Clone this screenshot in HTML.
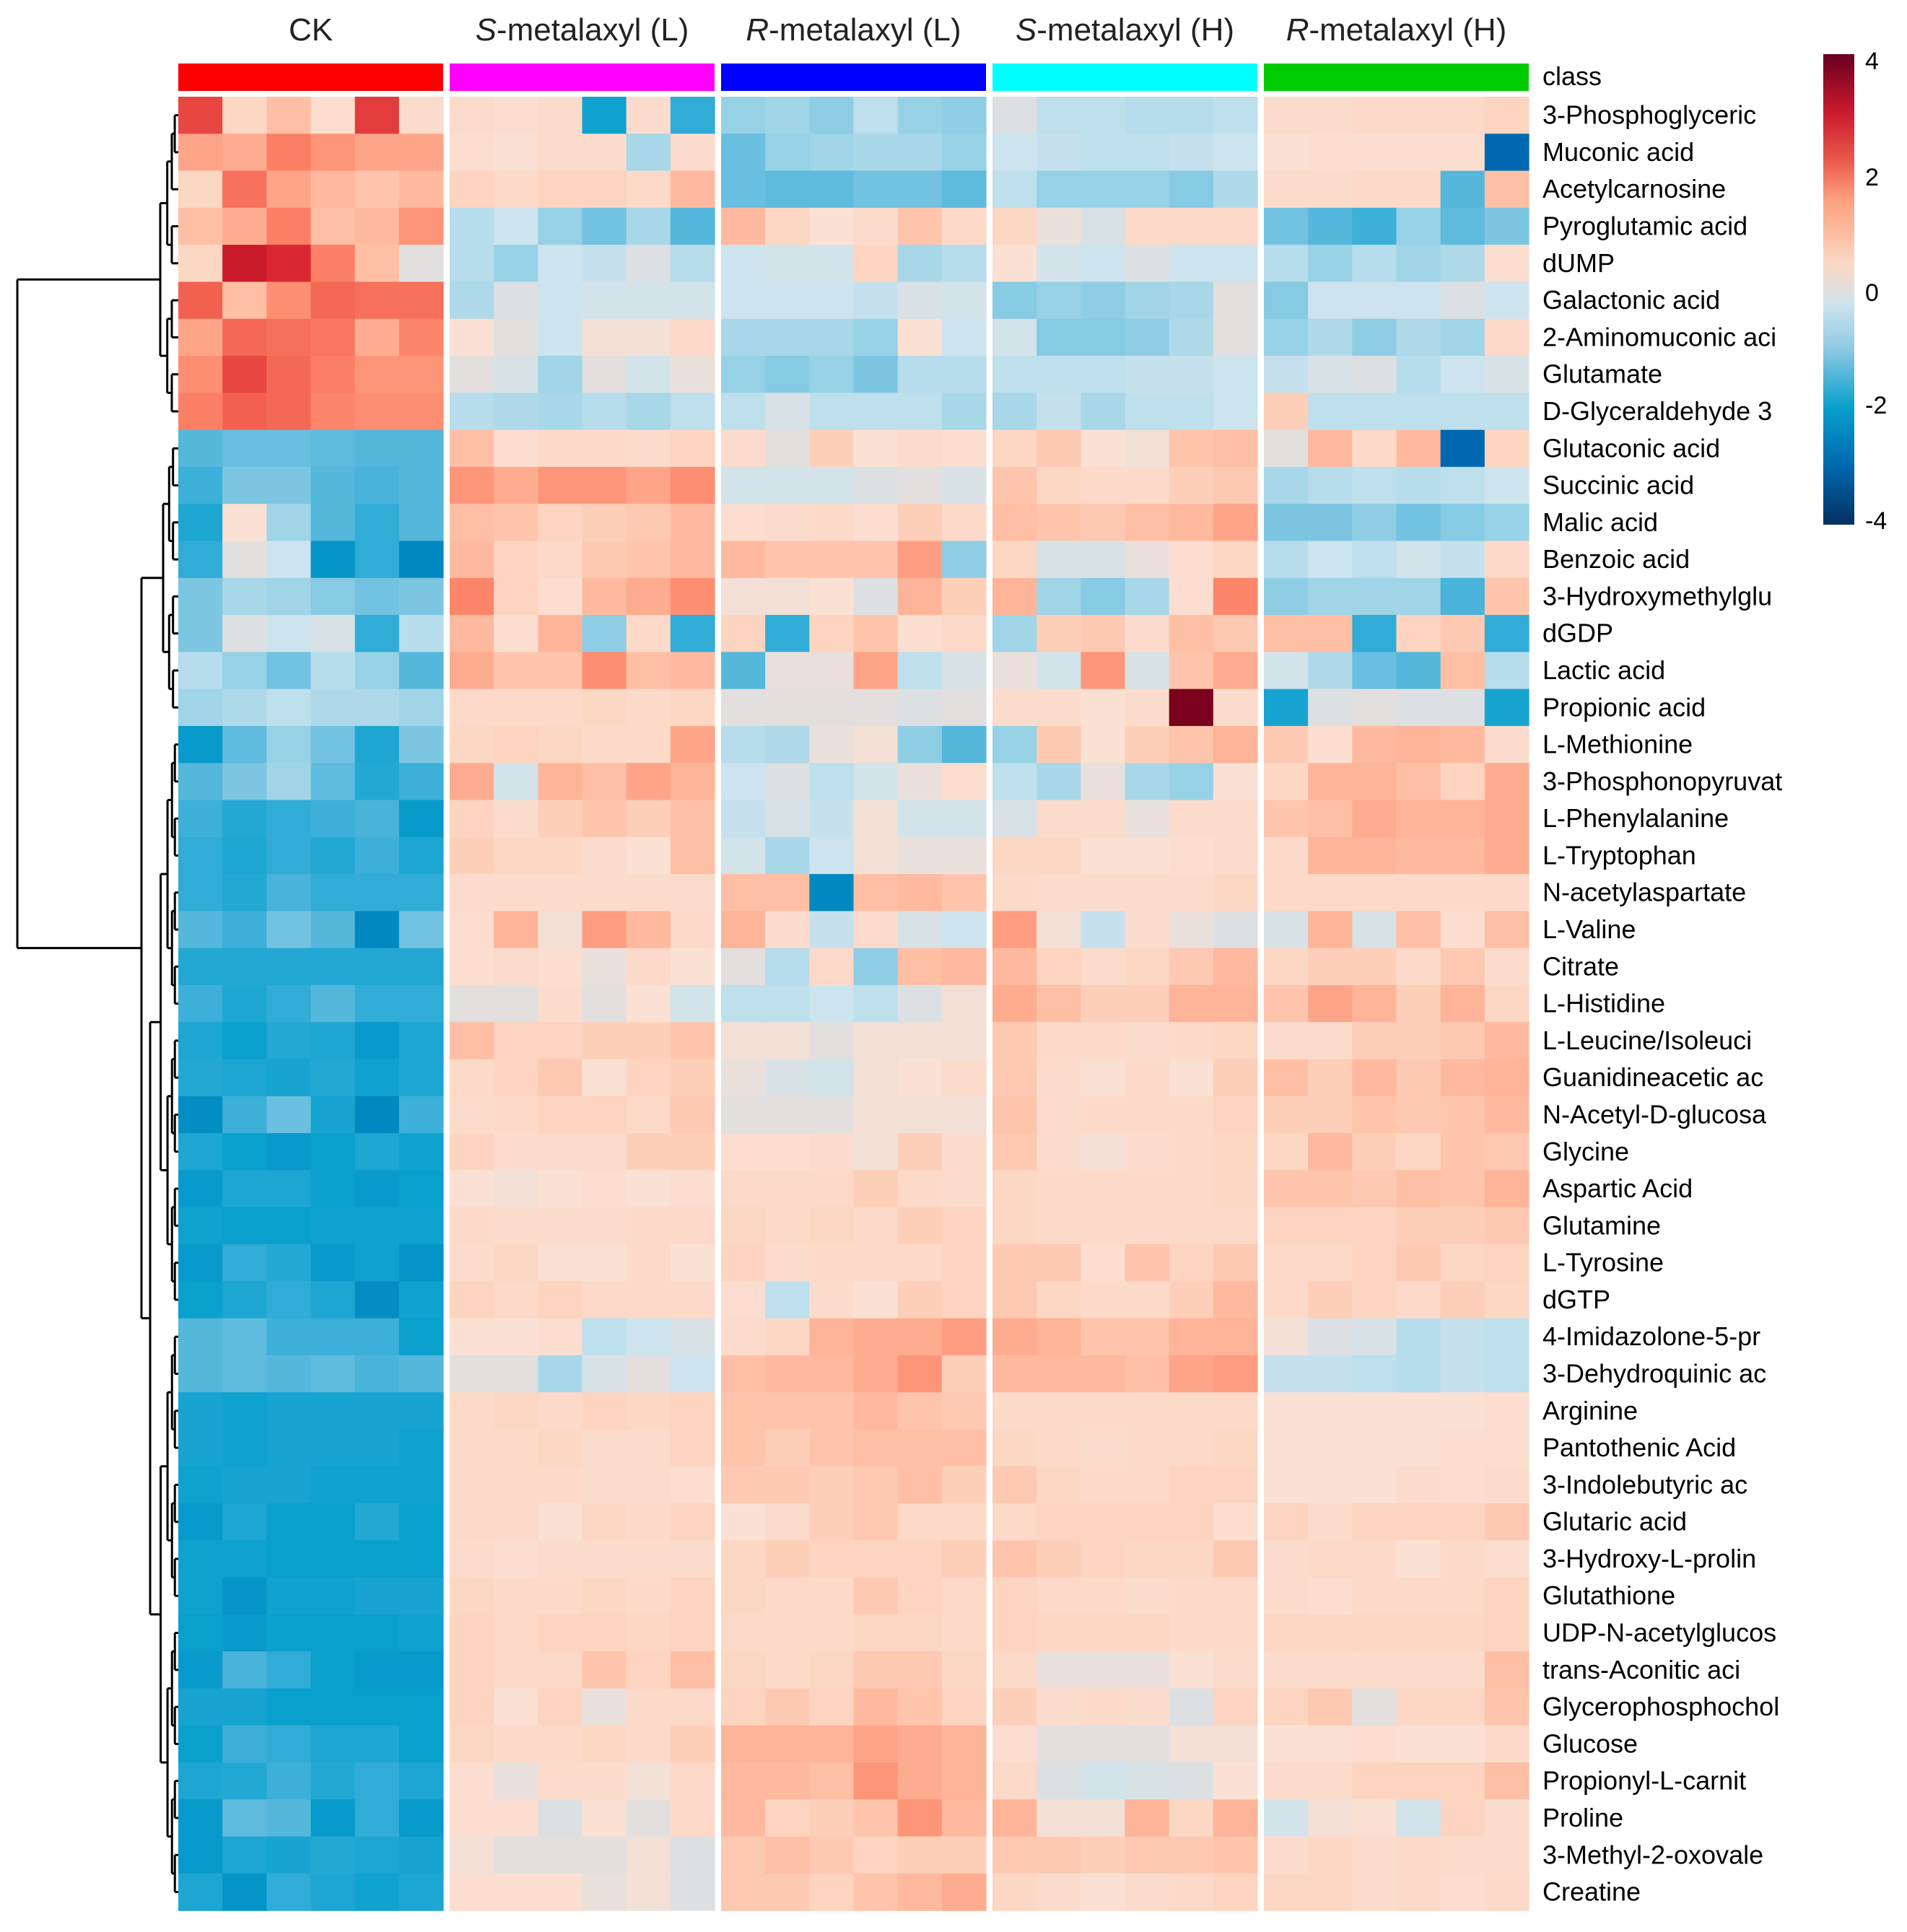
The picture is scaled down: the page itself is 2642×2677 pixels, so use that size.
<!DOCTYPE html>
<html><head><meta charset="utf-8"><style>
html,body{margin:0;padding:0;background:#fff;}
svg text{font-family:"Liberation Sans",sans-serif;}
</style></head><body>
<svg id="chart" xmlns="http://www.w3.org/2000/svg" width="2642" height="2672" viewBox="0 0 2642 2672">
<defs>
<linearGradient id="cbar" x1="0" y1="1" x2="0" y2="0">
<stop offset="0" stop-color="#053061"/><stop offset="0.125" stop-color="#0068b0"/><stop offset="0.25" stop-color="#0aa0cc"/><stop offset="0.375" stop-color="#8fcae3"/><stop offset="0.47" stop-color="#cfe4ee"/><stop offset="0.5" stop-color="#e2dedc"/><stop offset="0.56" stop-color="#fcd7c2"/><stop offset="0.69" stop-color="#fda07e"/><stop offset="0.78" stop-color="#e8554a"/><stop offset="0.88" stop-color="#c8192d"/><stop offset="1" stop-color="#67001f"/>
</linearGradient>
</defs>
<g id="dendro"></g>
<g id="cells"></g>
<g id="labels"></g>
<g id="heads"></g>
<g>
<rect x="2526" y="75" width="43" height="652" fill="url(#cbar)"/>
<text x="2584" y="96" font-size="34">4</text>
<text x="2584" y="257" font-size="34">2</text>
<text x="2584" y="417" font-size="34">0</text>
<text x="2584" y="573" font-size="34">-2</text>
<text x="2584" y="733" font-size="34">-4</text>
</g>
</svg>
<script>
const rowNames=["3-Phosphoglyceric","Muconic acid","Acetylcarnosine","Pyroglutamic acid","dUMP","Galactonic acid","2-Aminomuconic aci","Glutamate","D-Glyceraldehyde 3","Glutaconic acid","Succinic acid","Malic acid","Benzoic acid","3-Hydroxymethylglu","dGDP","Lactic acid","Propionic acid","L-Methionine","3-Phosphonopyruvat","L-Phenylalanine","L-Tryptophan","N-acetylaspartate","L-Valine","Citrate","L-Histidine","L-Leucine/Isoleuci","Guanidineacetic ac","N-Acetyl-D-glucosa","Glycine","Aspartic Acid","Glutamine","L-Tyrosine","dGTP","4-Imidazolone-5-pr","3-Dehydroquinic ac","Arginine","Pantothenic Acid","3-Indolebutyric ac","Glutaric acid","3-Hydroxy-L-prolin","Glutathione","UDP-N-acetylglucos","trans-Aconitic aci","Glycerophosphochol","Glucose","Propionyl-L-carnit","Proline","3-Methyl-2-oxovale","Creatine"];
const groupNames=["CK","S-metalaxyl (L)","R-metalaxyl (L)","S-metalaxyl (H)","R-metalaxyl (H)"];
const groupColors=["#ff0000","#ff00ff","#0000ff","#00ffff","#00cc00"];
const ck=[[2.8,0.7,1.2,0.4,2.9,0.5],[1.6,1.5,2.1,1.8,1.6,1.6],[0.7,2.3,1.6,1.3,1.1,1.3],[1.2,1.5,2.1,1.2,1.3,1.8],[0.7,3.3,3.1,2.1,1.2,0.0],[2.5,1.2,1.9,2.4,2.3,2.3],[1.6,2.4,2.3,2.2,1.5,2.0],[1.9,2.8,2.4,2.1,1.8,1.8],[2.1,2.5,2.4,2.0,1.9,1.9],[-1.8,-1.6,-1.6,-1.7,-1.8,-1.8],[-2.0,-1.4,-1.4,-1.8,-1.9,-1.8],[-2.3,0.3,-1.0,-1.8,-2.1,-1.8],[-2.1,0.0,-0.4,-2.8,-2.1,-3.0],[-1.4,-0.9,-1.0,-1.3,-1.5,-1.4],[-1.4,-0.1,-0.4,-0.2,-2.1,-0.7],[-0.7,-1.1,-1.5,-0.7,-1.1,-1.8],[-1.0,-0.8,-0.6,-0.8,-0.8,-1.0],[-2.7,-1.7,-1.1,-1.5,-2.3,-1.4],[-1.8,-1.4,-1.0,-1.7,-2.2,-2.0],[-2.0,-2.2,-2.1,-2.0,-1.9,-2.7],[-2.1,-2.3,-2.1,-2.2,-2.0,-2.3],[-2.1,-2.2,-1.9,-2.1,-2.1,-2.1],[-1.8,-2.0,-1.5,-1.8,-3.0,-1.5],[-2.2,-2.2,-2.2,-2.2,-2.2,-2.2],[-2.0,-2.3,-2.1,-1.8,-2.1,-2.1],[-2.3,-2.6,-2.2,-2.3,-2.7,-2.3],[-2.2,-2.3,-2.4,-2.2,-2.5,-2.3],[-2.9,-2.0,-1.6,-2.4,-3.0,-2.0],[-2.3,-2.6,-2.7,-2.6,-2.3,-2.5],[-2.7,-2.3,-2.3,-2.6,-2.7,-2.6],[-2.5,-2.6,-2.6,-2.5,-2.5,-2.5],[-2.7,-2.1,-2.2,-2.7,-2.5,-2.8],[-2.6,-2.3,-2.1,-2.3,-2.9,-2.5],[-1.8,-1.7,-2.0,-2.0,-2.0,-2.6],[-1.8,-1.7,-1.8,-1.7,-1.9,-1.8],[-2.4,-2.5,-2.4,-2.4,-2.4,-2.4],[-2.4,-2.5,-2.4,-2.4,-2.4,-2.5],[-2.5,-2.4,-2.4,-2.5,-2.5,-2.5],[-2.7,-2.3,-2.6,-2.6,-2.2,-2.6],[-2.5,-2.5,-2.6,-2.6,-2.6,-2.6],[-2.5,-2.8,-2.5,-2.5,-2.4,-2.4],[-2.6,-2.7,-2.6,-2.6,-2.6,-2.5],[-2.7,-1.9,-2.1,-2.6,-2.7,-2.7],[-2.4,-2.4,-2.6,-2.6,-2.6,-2.6],[-2.6,-2.0,-2.1,-2.3,-2.3,-2.6],[-2.3,-2.2,-2.0,-2.2,-2.1,-2.3],[-2.7,-1.7,-1.8,-2.7,-2.1,-2.7],[-2.7,-2.3,-2.4,-2.2,-2.3,-2.4],[-2.3,-2.8,-2.1,-2.3,-2.5,-2.3]];
const sLow=[[0.5,0.4,0.5,-2.5,0.5,-2.1],[0.4,0.3,0.5,0.5,-0.9,0.5],[0.8,0.6,0.8,0.8,0.6,1.3],[-0.7,-0.4,-1.1,-1.5,-0.9,-1.8],[-0.7,-1.1,-0.4,-0.5,-0.1,-0.7],[-0.8,-0.1,-0.4,-0.3,-0.3,-0.3],[0.3,0.0,-0.4,0.2,0.2,0.6],[0.0,-0.2,-1.0,0.0,-0.3,0.1],[-0.7,-0.8,-0.9,-0.7,-0.9,-0.6],[1.2,0.4,0.6,0.6,0.5,0.8],[1.8,1.5,1.8,1.8,1.6,1.9],[1.2,1.1,0.8,0.9,1.0,1.3],[1.3,0.8,0.6,1.0,1.1,1.3],[2.0,0.8,0.4,1.3,1.5,1.9],[1.3,0.4,1.4,-1.2,0.6,-2.1],[1.5,1.1,1.1,1.9,1.2,1.3],[0.6,0.6,0.6,0.7,0.6,0.7],[0.7,0.8,0.7,0.6,0.6,1.6],[1.5,-0.3,1.4,1.2,1.6,1.4],[0.8,0.5,0.9,1.1,0.9,1.2],[0.9,0.7,0.7,0.5,0.3,1.2],[0.5,0.5,0.5,0.5,0.5,0.5],[0.4,1.4,0.2,1.7,1.3,0.6],[0.4,0.5,0.4,0.1,0.6,0.3],[0.0,0.0,0.5,0.0,0.3,-0.3],[1.2,0.8,0.8,0.9,0.9,1.1],[0.6,0.8,1.0,0.3,0.8,0.9],[0.5,0.6,0.8,0.8,0.6,1.0],[0.8,0.5,0.5,0.5,0.9,0.9],[0.3,0.2,0.3,0.4,0.3,0.4],[0.6,0.5,0.5,0.5,0.6,0.6],[0.5,0.7,0.3,0.3,0.6,0.3],[0.8,0.6,0.8,0.6,0.6,0.6],[0.3,0.3,0.4,-0.6,-0.4,-0.2],[0.0,0.0,-0.9,-0.2,0.0,-0.4],[0.6,0.7,0.6,0.8,0.7,0.8],[0.6,0.6,0.7,0.5,0.5,0.8],[0.6,0.6,0.6,0.5,0.5,0.4],[0.6,0.6,0.3,0.7,0.6,0.8],[0.5,0.4,0.5,0.5,0.5,0.5],[0.7,0.6,0.6,0.7,0.6,0.8],[0.8,0.6,0.8,0.8,0.7,0.8],[0.8,0.6,0.6,1.1,0.8,1.2],[0.8,0.3,0.8,0.1,0.6,0.6],[0.7,0.6,0.6,0.7,0.6,0.9],[0.4,0.1,0.5,0.5,0.2,0.6],[0.4,0.4,-0.1,0.3,0.0,0.6],[0.2,0.0,0.0,0.0,0.2,-0.1],[0.4,0.4,0.4,0.1,0.2,-0.1]];
const rLow=[[-1.1,-1.0,-1.2,-0.6,-1.1,-1.2],[-1.6,-1.1,-1.0,-0.9,-0.9,-1.1],[-1.6,-1.7,-1.7,-1.5,-1.5,-1.7],[1.3,0.7,0.3,0.5,1.1,0.6],[-0.4,-0.3,-0.3,0.8,-0.9,-0.7],[-0.4,-0.4,-0.4,-0.5,-0.2,-0.3],[-0.9,-0.9,-0.9,-1.1,0.3,-0.4],[-1.1,-1.3,-1.1,-1.4,-0.7,-0.7],[-0.6,-0.2,-0.6,-0.6,-0.6,-0.9],[0.5,0.0,0.9,0.3,0.5,0.4],[-0.3,-0.3,-0.3,-0.1,0.0,-0.2],[0.4,0.5,0.6,0.4,0.9,0.6],[1.3,1.1,1.1,1.1,1.7,-1.2],[0.2,0.2,0.3,-0.1,1.4,0.9],[0.8,-2.1,0.8,1.1,0.4,0.6],[-1.8,0.1,0.1,1.6,-0.6,-0.2],[0.0,0.0,0.0,0.0,-0.1,0.0],[-0.7,-0.8,0.1,0.2,-1.2,-1.8],[-0.4,-0.1,-0.6,-0.3,0.1,0.4],[-0.5,-0.2,-0.5,0.2,-0.3,-0.3],[-0.3,-0.9,-0.4,0.2,0.1,0.1],[1.2,1.2,-3.0,1.2,1.3,1.1],[1.4,0.5,-0.5,0.5,-0.2,-0.4],[0.0,-0.7,0.6,-1.2,1.2,1.3],[-0.6,-0.6,-0.4,-0.6,-0.1,0.2],[0.2,0.2,0.0,0.2,0.2,0.2],[0.1,-0.2,-0.3,0.2,0.3,0.5],[0.0,0.0,0.0,0.2,0.2,0.2],[0.4,0.4,0.5,0.2,0.9,0.5],[0.6,0.6,0.6,0.9,0.6,0.5],[0.7,0.6,0.7,0.6,0.9,0.8],[0.8,0.5,0.6,0.6,0.6,0.8],[0.4,-0.6,0.5,0.3,0.9,0.8],[0.5,0.7,1.4,1.5,1.5,1.7],[1.2,1.3,1.3,1.5,1.8,0.9],[1.1,1.1,1.1,1.3,1.1,1.0],[1.1,0.9,1.1,1.2,1.2,1.2],[1.0,1.0,0.9,1.0,1.2,0.9],[0.3,0.5,0.9,1.0,0.6,0.6],[0.7,0.9,0.8,0.8,0.8,0.9],[0.7,0.6,0.6,1.0,0.8,0.6],[0.6,0.6,0.6,0.7,0.7,0.6],[0.7,0.6,0.7,1.0,1.0,0.7],[0.8,1.0,0.8,1.3,1.1,0.8],[1.4,1.4,1.4,1.6,1.5,1.4],[1.3,1.3,1.2,1.8,1.5,1.4],[1.3,0.8,0.9,1.1,1.8,1.3],[1.0,1.2,1.0,0.8,0.9,0.9],[1.0,1.0,0.8,1.1,1.3,1.5]];
const sHigh=[[-0.1,-0.6,-0.6,-0.7,-0.7,-0.6],[-0.4,-0.5,-0.6,-0.6,-0.5,-0.4],[-0.6,-1.1,-1.1,-1.1,-1.3,-0.8],[0.7,0.1,-0.2,0.6,0.6,0.6],[0.3,-0.3,-0.4,-0.1,-0.4,-0.4],[-1.3,-1.1,-1.2,-1.0,-0.9,0.0],[-0.3,-1.3,-1.3,-1.2,-0.8,0.0],[-0.6,-0.6,-0.6,-0.5,-0.5,-0.4],[-0.9,-0.5,-0.9,-0.6,-0.6,-0.4],[0.7,1.0,0.3,0.2,1.1,1.2],[1.1,0.7,0.6,0.6,0.9,1.0],[1.2,1.1,1.0,1.2,1.3,1.6],[0.7,-0.2,-0.2,0.1,0.4,0.7],[1.4,-1.0,-1.3,-0.9,0.4,2.0],[-1.0,0.9,1.0,0.5,1.2,1.0],[0.1,-0.3,1.8,-0.2,1.1,1.5],[0.5,0.5,0.3,0.5,4.0,0.5],[-1.1,1.0,0.3,0.9,1.1,1.4],[-0.6,-0.9,0.1,-0.9,-1.1,0.3],[-0.2,0.5,0.5,0.1,0.5,0.5],[0.7,0.7,0.3,0.3,0.4,0.5],[0.6,0.5,0.5,0.5,0.5,0.7],[1.7,0.2,-0.5,0.5,0.1,-0.1],[1.3,0.8,0.5,0.7,1.0,1.3],[1.5,1.2,0.9,0.9,1.4,1.4],[1.0,0.6,0.6,0.5,0.6,0.7],[1.0,0.5,0.3,0.6,0.3,0.9],[1.1,0.5,0.6,0.6,0.6,0.8],[1.0,0.5,0.2,0.5,0.6,0.7],[0.7,0.6,0.6,0.6,0.6,0.7],[0.7,0.6,0.6,0.6,0.6,0.6],[1.0,1.0,0.4,1.1,0.8,1.0],[1.0,0.7,0.6,0.6,0.9,1.3],[1.5,1.4,1.1,1.1,1.4,1.4],[1.3,1.3,1.3,1.2,1.6,1.7],[0.6,0.6,0.6,0.6,0.6,0.6],[0.7,0.6,0.5,0.6,0.6,0.7],[1.0,0.7,0.6,0.6,0.8,0.8],[0.6,0.8,0.8,0.8,0.8,0.4],[1.1,0.9,0.8,0.7,0.7,1.0],[0.8,0.6,0.6,0.5,0.6,0.6],[0.8,0.7,0.7,0.7,0.6,0.6],[0.6,0.1,0.1,0.1,0.3,0.5],[0.9,0.5,0.6,0.5,-0.1,0.8],[0.4,0.0,0.0,0.0,0.2,0.2],[0.6,-0.1,-0.3,-0.2,-0.1,0.3],[1.4,0.2,0.2,1.4,0.7,1.4],[1.0,1.0,0.9,1.0,1.0,1.1],[0.7,0.5,0.3,0.5,0.6,0.8]];
const rHigh=[[0.5,0.5,0.6,0.6,0.6,0.8],[0.3,0.4,0.4,0.4,0.4,-3.4],[0.5,0.5,0.6,0.6,-1.8,1.2],[-1.5,-1.8,-2.0,-1.1,-1.7,-1.4],[-0.7,-1.1,-0.7,-1.0,-0.8,0.4],[-1.3,-0.4,-0.4,-0.4,-0.1,-0.4],[-1.1,-0.8,-1.2,-0.8,-1.0,0.6],[-0.5,-0.2,-0.1,-0.7,-0.4,-0.2],[0.9,-0.6,-0.6,-0.6,-0.6,-0.6],[0.0,1.3,0.6,1.3,-3.4,0.8],[-0.9,-0.7,-0.6,-0.7,-0.6,-0.4],[-1.4,-1.4,-1.2,-1.5,-1.3,-1.1],[-0.7,-0.4,-0.6,-0.3,-0.5,0.6],[-1.2,-1.0,-1.0,-1.0,-1.9,1.1],[1.2,1.2,-2.1,0.8,1.0,-2.1],[-0.3,-0.8,-1.6,-1.8,1.2,-0.7],[-2.4,-0.1,0.0,-0.1,-0.1,-2.4],[1.0,0.4,1.3,1.4,1.3,0.5],[0.7,1.4,1.4,1.2,0.8,1.5],[1.1,1.2,1.5,1.4,1.4,1.5],[0.6,1.4,1.4,1.3,1.3,1.5],[0.6,0.6,0.6,0.6,0.6,0.6],[-0.2,1.4,-0.2,1.2,0.4,1.2],[0.7,0.9,0.9,0.6,1.0,0.5],[1.1,1.6,1.4,0.9,1.4,0.7],[0.5,0.5,0.9,0.9,1.0,1.3],[1.2,0.9,1.3,1.0,1.3,1.4],[0.9,0.9,1.1,1.0,1.1,1.3],[0.7,1.3,0.9,0.7,1.1,1.0],[1.1,1.1,1.0,1.2,1.1,1.4],[0.8,0.8,0.8,0.9,0.9,1.0],[0.6,0.6,0.8,1.0,0.7,0.8],[0.6,0.9,0.8,0.6,0.9,0.7],[0.2,-0.1,-0.2,-0.7,-0.5,-0.6],[-0.5,-0.5,-0.6,-0.7,-0.5,-0.6],[0.3,0.3,0.3,0.3,0.3,0.4],[0.3,0.3,0.3,0.3,0.4,0.4],[0.3,0.3,0.3,0.5,0.4,0.5],[0.8,0.5,0.8,0.8,0.8,1.0],[0.5,0.6,0.6,0.3,0.6,0.4],[0.5,0.4,0.6,0.6,0.6,0.8],[0.7,0.7,0.7,0.7,0.7,0.8],[0.5,0.5,0.5,0.5,0.5,1.2],[0.8,1.0,0.0,0.7,0.7,1.1],[0.3,0.3,0.4,0.3,0.3,0.6],[0.5,0.5,0.8,0.8,0.8,1.2],[-0.3,0.2,0.3,-0.3,0.8,0.5],[0.5,0.7,0.5,0.6,0.5,0.5],[0.7,0.7,0.5,0.6,0.4,0.6]];
const groupData=[ck,sLow,rLow,sHigh,rHigh];

const NS="http://www.w3.org/2000/svg";
const X0=247,GW=367,GAP=9,TOP=134,RH=51.29,NC=6,CW=GW/NC;
const stops=[[-4,5,48,97],[-3.4,0,104,176],[-3,0,136,192],[-2.6,10,160,205],[-2.2,35,168,212],[-1.8,85,183,220],[-1.4,125,198,226],[-1,160,212,231],[-0.4,205,228,238],[0,226,223,222],[0.3,250,225,212],[0.8,253,212,192],[1.4,254,180,152],[2,253,134,106],[2.6,240,90,75],[3.2,212,30,44],[4,122,0,30]];
function color(v){
  if(v<=stops[0][0])return `rgb(${stops[0][1]},${stops[0][2]},${stops[0][3]})`;
  for(let i=1;i<stops.length;i++){if(v<=stops[i][0]){const a=stops[i-1],b=stops[i],t=(v-a[0])/(b[0]-a[0]);
    return `rgb(${Math.round(a[1]+t*(b[1]-a[1]))},${Math.round(a[2]+t*(b[2]-a[2]))},${Math.round(a[3]+t*(b[3]-a[3]))})`;}}
  const l=stops[stops.length-1];return `rgb(${l[1]},${l[2]},${l[3]})`;
}
function xCol(g,c){return X0+g*(GW+GAP)+c*CW;}
function yRow(r){return TOP+r*RH;}
function mk(tag,attrs,parent){const e=document.createElementNS(NS,tag);for(const k in attrs)e.setAttribute(k,attrs[k]);parent.appendChild(e);return e;}

const cells=document.getElementById('cells');
groupData.forEach((data,g)=>{
  data.forEach((row,r)=>{
    row.forEach((v,c)=>{
      const el=mk('rect',{x:xCol(g,c).toFixed(2),y:yRow(r).toFixed(2),width:(CW+0.6).toFixed(2),height:(RH+0.6).toFixed(2),fill:color(v)},cells);
      
      
    });
  });
});
const heads=document.getElementById('heads');
groupNames.forEach((n,g)=>{
  const bar=mk('rect',{x:xCol(g,0),y:88,width:GW,height:38,fill:groupColors[g]},heads);
  
  
  const t=mk('text',{x:xCol(g,0)+GW/2,y:56,'font-size':44,'text-anchor':'middle',fill:'#222'},heads);
  
  
  if(n.length>2){const s=mk('tspan',{'font-style':'italic'},t);s.textContent=n[0];const r=mk('tspan',{},t);r.textContent=n.slice(1);}else t.textContent=n;
});
const labs=document.getElementById('labels');
const cl=mk('text',{x:2137,y:118,'font-size':36,fill:'#000'},labs);
cl.textContent='class';


rowNames.forEach((n,r)=>{
  const t=mk('text',{x:2137,y:(yRow(r)+RH/2+12).toFixed(1),'font-size':36,fill:'#000'},labs);
  t.textContent=n;
  
  
});
const dg=document.getElementById('dendro');
function line(x1,y1,x2,y2){const l=mk('line',{x1,y1,x2,y2,stroke:'#000','stroke-width':3},dg);}
function tree(lo,hi,x){
  if(lo===hi)return yRow(lo)+RH/2;
  const mid=Math.floor((lo+hi)/2);
  const cx=Math.min(244,x+(244-x)*0.35+2);
  const y1=tree(lo,mid,cx),y2=tree(mid+1,hi,cx);
  line(x,y1,x,y2);
  line(x,y1,lo===mid?247:cx,y1);
  line(x,y2,mid+1===hi?247:cx,y2);
  return (y1+y2)/2;
}
const yA=tree(0,8,222);
const yB=tree(9,16,226);
const yC=tree(17,48,208);
const yBC=(yB+yC)/2;
line(196,yB,196,yC);line(196,yB,226,yB);line(196,yC,208,yC);
line(24,yA,24,yBC);line(24,yA,222,yA);line(24,yBC,196,yBC);
</script>
</body></html>
